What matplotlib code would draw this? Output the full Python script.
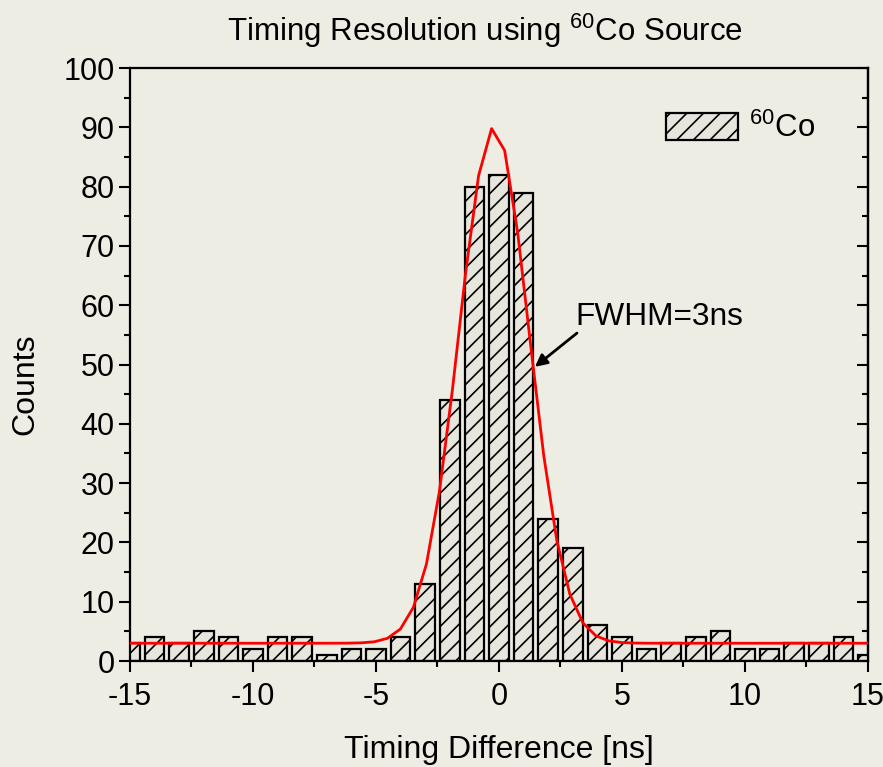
#!/usr/bin/env python3
"""
Timing resolution histogram for a 60Co source with a Gaussian fit.
"""

import numpy as np
import matplotlib.pyplot as plt

# histogram bins (ns) and counts
time_diff = [-15, -14, -13, -12, -11, -10, -9, -8, -7, -6, -5, -4, -3, -2, -1,
             0, 1, 2, 3, 4, 5, 6, 7, 8, 9, 10, 11, 12, 13, 14, 15]
counts = [3, 4, 3, 5, 4, 2, 4, 4, 1, 2, 2, 4, 13, 44, 80,
          82, 79, 24, 19, 6, 4, 2, 3, 4, 5, 2, 2, 3, 3, 4, 1]

# Gaussian fit parameters: baseline, amplitude, centre, sigma
fit_y0 = 3.0
fit_amp = 87.0
fit_xc = -0.2
fit_sigma = 1.42

BG = '#eeede4'

plt.rcParams['font.family'] = ['Liberation Sans', 'DejaVu Sans']
plt.rcParams['mathtext.fontset'] = 'custom'
plt.rcParams['mathtext.rm'] = 'Liberation Sans'
plt.rcParams['mathtext.it'] = 'Liberation Sans:italic'
plt.rcParams['axes.unicode_minus'] = False
plt.rcParams['hatch.linewidth'] = 1.2
plt.rcParams['font.size'] = 22


def timing_plot():
    fig = plt.figure(figsize=(8.83, 7.67), dpi=100, facecolor=BG)
    ax = fig.add_axes([0.1472, 0.1382, 0.8358, 0.7731])
    ax.set_facecolor('none')

    # hatched histogram bars
    ax.bar(time_diff, counts, width=0.8, color='#e6e6dc', edgecolor='black',
           linewidth=1.6, hatch='//', label='$^{60}$Co', zorder=2)

    # gaussian fit curve, coarse sampling like the fit output
    xs = np.arange(-15.14, 15.3, 0.53)
    ys = fit_y0 + fit_amp * np.exp(-(xs - fit_xc) ** 2 / (2 * fit_sigma ** 2))
    ax.plot(xs, ys, color='#ff0000', linewidth=2, zorder=3)

    # FWHM annotation
    ax.text(3.1, 58, 'FWHM=3ns', ha='left', va='center', fontsize=22.8)
    ax.annotate('', xy=(1.46, 49.6), xytext=(3.17, 55.3),
                arrowprops=dict(arrowstyle='-|>', color='black', lw=2,
                                mutation_scale=18, shrinkA=0, shrinkB=0))

    ax.set_xlim(-15, 15)
    ax.set_ylim(0, 100)
    ax.set_xticks(np.arange(-15, 16, 5))
    ax.set_xticks(np.arange(-12.5, 15, 5), minor=True)
    ax.set_yticks(np.arange(0, 101, 10))
    ax.set_yticks(np.arange(5, 100, 10), minor=True)

    for side in ax.spines.values():
        side.set_linewidth(1.6)

    ax.tick_params(which='major', direction='out', length=8, width=1.5,
                   labelsize=22)
    ax.tick_params(which='minor', direction='out', length=4.5, width=1.5)
    ax.tick_params(axis='x', which='major', pad=7)
    ax.tick_params(axis='y', which='major', pad=3)

    # mirrored ticks on the right side, pointing inward
    ax2 = ax.secondary_yaxis('right')
    ax2.set_yticks(np.arange(0, 101, 10), labels=[])
    ax2.set_yticks(np.arange(5, 100, 10), minor=True)
    ax2.tick_params(which='major', direction='in', length=8, width=1.5)
    ax2.tick_params(which='minor', direction='in', length=4.5, width=1.5)
    ax2.spines['right'].set_linewidth(1.6)

    ax.set_xlabel('Timing Difference [ns]', fontsize=23)
    ax.xaxis.set_label_coords(0.5, -0.125)
    ax.set_ylabel('Counts', fontsize=23)
    ax.yaxis.set_label_coords(-0.122, 0.467)
    fig.text(485 / 883, 1 - 31 / 767, 'Timing Resolution using $^{60}$Co Source',
             ha='center', va='center', fontsize=22.5)

    ax.legend(loc='upper right', bbox_to_anchor=(0.966, 0.972), frameon=False,
              handlelength=2.3, handleheight=0.95, handletextpad=0.35,
              fontsize=22.5)

    fig.savefig('out.png', dpi=100, facecolor=BG)


timing_plot()
